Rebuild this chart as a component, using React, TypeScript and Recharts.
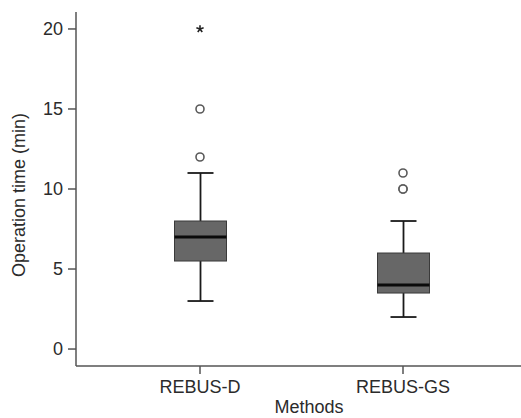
import React from 'react';
import { ComposedChart, Bar, Scatter, XAxis, YAxis } from 'recharts';

const categories = ['REBUS-D', 'REBUS-GS'];
const whiskerLow = [3, 2];
const lowerQuartile = [5.5, 3.5];
const medians = [7, 4];
const upperQuartile = [8, 6];
const whiskerHigh = [11, 8];
// circles (mild outliers); REBUS-GS has two cases at 10
const outliersA = [12, 10];
const outliersB = [15, 10];
const outliersC = [null, 11];
// asterisk (extreme value)
const extremes = [20, null];
const yTicks = [0, 5, 10, 15, 20];

const rows = categories.map((name, i) => ({
    name,
    min: whiskerLow[i],
    q1: lowerQuartile[i],
    med: medians[i],
    q3: upperQuartile[i],
    max: whiskerHigh[i],
    outA: outliersA[i],
    outB: outliersB[i],
    outC: outliersC[i],
    extreme: extremes[i],
}));

const FONT = '"Liberation Sans", Arial, Helvetica, sans-serif';
const AXIS = '#555';
const TEXT = '#2b2b2b';

// whole box + whiskers, from the range bar min..max
function BoxShape(props: any) {
    const { x, y, width, height, payload } = props;
    const top = Math.min(y, y + height);
    const bottom = Math.max(y, y + height);
    const k = (bottom - top) / (payload.max - payload.min);
    const toY = (v: number) => top + (payload.max - v) * k;
    const cx = x + width / 2;
    const cap = 13;
    return (
        <g>
            <line x1={cx} x2={cx} y1={top} y2={bottom} stroke="#1a1a1a" strokeWidth={1.8} />
            <line x1={cx - cap} x2={cx + cap} y1={top} y2={top} stroke="#1a1a1a" strokeWidth={1.8} />
            <line x1={cx - cap} x2={cx + cap} y1={bottom} y2={bottom} stroke="#1a1a1a" strokeWidth={1.8} />
            <rect
                x={x}
                y={toY(payload.q3)}
                width={width}
                height={toY(payload.q1) - toY(payload.q3)}
                fill="#676767"
                stroke="#3a3a3a"
                strokeWidth={1}
            />
            <line x1={x} x2={x + width} y1={toY(payload.med)} y2={toY(payload.med)} stroke="#0a0a0a" strokeWidth={3} />
        </g>
    );
}

const circleShape = (key: string) => (props: any) => {
    if (props.payload == null || props.payload[key] == null) return <g />;
    return <circle cx={props.cx} cy={props.cy} r={4} fill="#fff" stroke="#5a5a5a" strokeWidth={1.6} />;
};

function StarShape(props: any) {
    if (props.payload == null || props.payload.extreme == null) return <g />;
    const { cx, cy } = props;
    const r = 3.8;
    const arms = [0, 72, 144, 216, 288].map((deg) => {
        const a = ((deg - 90) * Math.PI) / 180;
        return <line key={deg} x1={cx} y1={cy} x2={cx + r * Math.cos(a)} y2={cy + r * Math.sin(a)} stroke="#222" strokeWidth={1.6} />;
    });
    return <g>{arms}</g>;
}

export default function App() {
    return (
        <div style={{ position: 'absolute', left: 0, top: 0, width: 521, height: 418, background: '#fff', fontFamily: FONT }}>
            <ComposedChart width={521} height={418} data={rows} margin={{ top: 12, right: 0, left: 0, bottom: 0 }}>
                <XAxis
                    dataKey="name"
                    type="category"
                    padding={{ left: 22.5, right: 16.5 }}
                    height={52}
                    stroke={AXIS}
                    strokeWidth={1.5}
                    tickSize={8}
                    tickMargin={6}
                    tick={{ fill: TEXT, fontSize: 18, fontFamily: FONT }}
                    label={{
                        content: () => (
                            <text x={309} y={413} textAnchor="middle" fill={TEXT} fontSize={18} fontFamily={FONT}>
                                Methods
                            </text>
                        ),
                    }}
                />
                <YAxis
                    type="number"
                    domain={[-1.06, 21.06]}
                    ticks={yTicks}
                    width={76}
                    stroke={AXIS}
                    strokeWidth={1.5}
                    tickSize={8}
                    tickMargin={5}
                    tick={{ fill: TEXT, fontSize: 18, fontFamily: FONT }}
                    label={{
                        content: () => (
                            <text
                                x={25}
                                y={195}
                                transform="rotate(-90 25 195)"
                                textAnchor="middle"
                                fill={TEXT}
                                fontSize={18}
                                fontFamily={FONT}
                            >
                                Operation time (min)
                            </text>
                        ),
                    }}
                />
                <Bar
                    dataKey={(d: any) => [d.min, d.max]}
                    barSize={52}
                    shape={BoxShape}
                    isAnimationActive={false}
                />
                <Scatter dataKey="outA" shape={circleShape('outA')} isAnimationActive={false} />
                <Scatter dataKey="outB" shape={circleShape('outB')} isAnimationActive={false} />
                <Scatter dataKey="outC" shape={circleShape('outC')} isAnimationActive={false} />
                <Scatter dataKey="extreme" shape={StarShape} isAnimationActive={false} />
            </ComposedChart>
        </div>
    );
}
